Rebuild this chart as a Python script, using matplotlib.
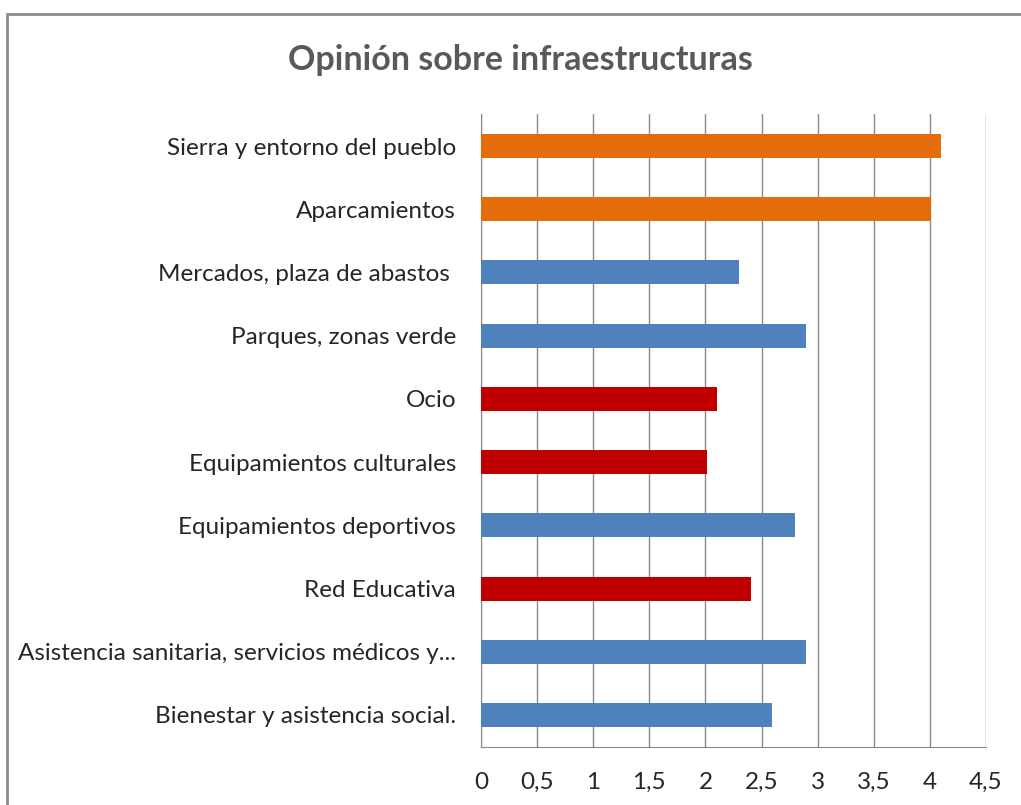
import matplotlib

matplotlib.use("Agg")
import matplotlib.pyplot as plt
from matplotlib.patches import Rectangle
from matplotlib.ticker import FuncFormatter

categories = [
    "Sierra y entorno del pueblo",
    "Aparcamientos",
    "Mercados, plaza de abastos ",
    "Parques, zonas verde",
    "Ocio",
    "Equipamientos culturales",
    "Equipamientos deportivos",
    "Red Educativa",
    "Asistencia sanitaria, servicios médicos y...",
    "Bienestar y asistencia social.",
]
values = [4.10, 4.01, 2.30, 2.90, 2.10, 2.01, 2.80, 2.41, 2.90, 2.59]
groups = ["alta", "alta", "media", "media", "baja", "baja", "media", "baja", "media", "media"]
group_colors = {"alta": "#E46C0A", "media": "#4F81BD", "baja": "#C00000"}

plt.rcParams["font.family"] = ["Lato", "DejaVu Sans"]

fig = plt.figure(figsize=(10.21, 8.05), dpi=100)
# gray chart frame, cut off at right and bottom like the screenshot
fig.patches.append(
    Rectangle((7 / 1021, -0.1), 1.2, 1 - 14 / 805 + 0.1, transform=fig.transFigure,
              fill=False, edgecolor="#8c8c8c", linewidth=2)
)
ax = fig.add_axes([481 / 1021, 58.4 / 805, 505 / 1021, 632.2 / 805])

y = list(range(len(categories)))[::-1]
ax.barh(y, values, height=0.38, color=[group_colors[g] for g in groups], zorder=3)

ax.set_xlim(0, 4.5)
ax.set_ylim(-0.5, len(categories) - 0.5)
ax.set_xticks([i * 0.5 for i in range(10)])
ax.xaxis.set_major_formatter(FuncFormatter(lambda v, _: f"{v:g}".replace(".", ",")))
ax.set_yticks(y)
ax.set_yticklabels(categories)
ax.grid(axis="x", color="#8a8a8a", linewidth=1, zorder=0)
ax.tick_params(axis="y", length=0, pad=18, labelsize=17.5, labelcolor="#262626")
ax.tick_params(axis="x", length=0, pad=18, labelsize=17.5, labelcolor="#262626")
for side in ["top", "right"]:
    ax.spines[side].set_visible(False)
for side in ["left", "bottom"]:
    ax.spines[side].set_color("#8a8a8a")

fig.text(520 / 1021, 1 - 60 / 805, "Opinión sobre infraestructuras", ha="center", va="center",
         fontsize=24.5, color="#595959", fontweight="bold")

fig.savefig("out.png", dpi=100)
plt.close(fig)
